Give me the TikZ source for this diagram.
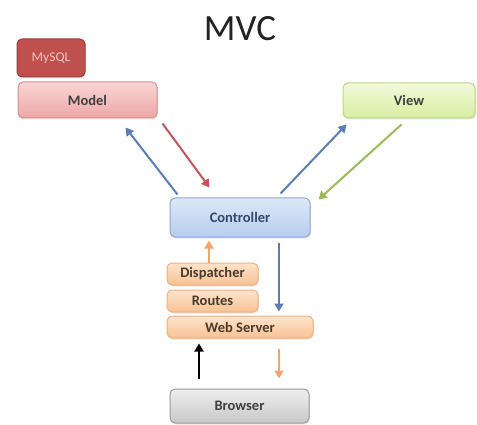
\documentclass[tikz,border=0pt]{standalone}
\usepackage{fontspec}
\setmainfont{Carlito}
\usetikzlibrary{arrows.meta,calc,shadows}
\definecolor{txt}{HTML}{3F3F3F}
\definecolor{ctxt}{HTML}{34496A}
\definecolor{otxt}{HTML}{4A3A2C}
\definecolor{ttl}{HTML}{222222}
\definecolor{mbot}{HTML}{EDA6A6}\definecolor{mtop}{HTML}{FAD6D6}\definecolor{mbrd}{HTML}{D89090}
\definecolor{sqlf}{HTML}{C0504D}\definecolor{sqlb}{HTML}{A03C3A}\definecolor{sqlt}{HTML}{F4C4C4}
\definecolor{vtop}{HTML}{F3FADC}\definecolor{vbot}{HTML}{D8EEA2}\definecolor{vbrd}{HTML}{BCD384}
\definecolor{ctop}{HTML}{DDE8F8}\definecolor{cbot}{HTML}{B6CDEE}\definecolor{cbrd}{HTML}{8FA8D0}
\definecolor{otop}{HTML}{FDE4CC}\definecolor{obot}{HTML}{F8C294}\definecolor{obrd}{HTML}{EFB080}
\definecolor{btop}{HTML}{EEEEEE}\definecolor{bbot}{HTML}{C8C8C8}\definecolor{bbrd}{HTML}{9A9A9A}
\definecolor{ablue}{HTML}{5A7DB8}\definecolor{ared}{HTML}{C4545A}\definecolor{agreen}{HTML}{9BBB59}
\definecolor{aorange}{HTML}{F2A56B}
\tikzset{
  box/.style={rounded corners=5pt, line width=1pt, text=txt,
    font=\fontsize{14.5}{16}\selectfont\bfseries,
    drop shadow={opacity=0.2, shadow xshift=1pt, shadow yshift=-1.5pt}},
  arr/.style={line width=2pt, -{Triangle[length=8pt,width=9pt]}},
}
\begin{document}
\begin{tikzpicture}[x=1pt,y=-1pt]
\useasboundingbox (0,0) rectangle (477,425);
\node[text=ttl] (title) at (240,29) {\fontsize{37}{40}\selectfont MVC};
\node[box, draw=mbrd, top color=mtop, bottom color=mbot, minimum width=139pt, minimum height=36pt] (model) at (87.5,100) {Model};
\node[box, draw=sqlb, fill=sqlf, text=sqlt, font=\fontsize{13.5}{15}\selectfont, minimum width=68pt, minimum height=38pt] (mysql) at (51,58) {MySQL};
\node[box, draw=vbrd, top color=vtop, bottom color=vbot, minimum width=132pt, minimum height=35pt] (view) at (409,100.5) {View};
\node[box, draw=cbrd, top color=ctop, bottom color=cbot, text=ctxt, minimum width=140pt, minimum height=39pt] (ctrl) at (240,217.5) {Controller};
\node[box, draw=obrd, top color=otop, bottom color=obot, text=otxt, minimum width=91pt, minimum height=22pt] (disp) at (212.5,274) {Dispatcher};
\node[box, draw=obrd, top color=otop, bottom color=obot, text=otxt, minimum width=91pt, minimum height=22pt] (routes) at (212.5,301) {Routes};
\node[box, draw=obrd, top color=otop, bottom color=obot, text=otxt, minimum width=146pt, minimum height=22pt] (ws) at (240,327) {Web Server};
\node[box, draw=bbrd, top color=btop, bottom color=bbot, minimum width=139pt, minimum height=34pt] (browser) at (239.5,406) {Browser};

\draw[arr, ablue] ($(ctrl.north west)+(8,-3)$) -- ($(model.south east)+(-32,9)$);
\draw[arr, ared] ($(model.south east)+(5,5)$) -- ($(ctrl.north west)+(40,-10)$);
\draw[arr, ablue] ($(ctrl.north east)+(-30,-4)$) -- ($(view.south west)+(4,6)$);
\draw[arr, agreen] ($(view.south west)+(59,6)$) -- ($(ctrl.north east)+(8,2)$);
\draw[arr, aorange] ($(disp.north)+(-3.5,0)$) -- ($(ctrl.south)+(-31,3)$);
\draw[arr, ablue] ($(ctrl.south)+(39,5)$) -- ($(ws.north)+(39,-4)$);
\draw[arr, black] ($(browser.north)+(-40.5,-10)$) -- ($(ws.south)+(-41,5)$);
\draw[arr, aorange] ($(ws.south)+(39,10)$) -- ($(browser.north)+(39.5,-10)$);
\end{tikzpicture}
\end{document}
